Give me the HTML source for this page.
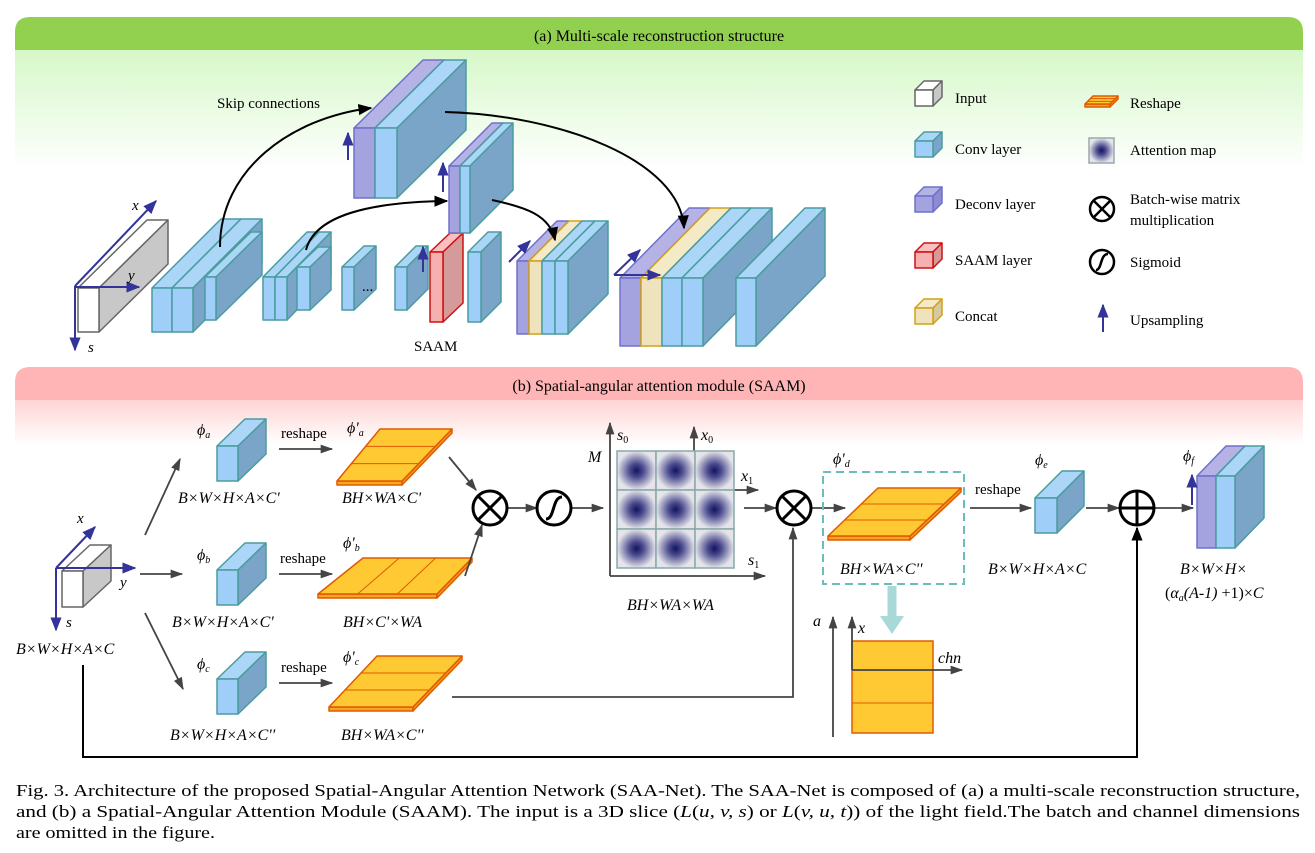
<!DOCTYPE html>
<html><head><meta charset="utf-8"><style>
html,body{margin:0;padding:0;background:#fff}
svg{display:block}
text{font-family:"Liberation Serif",serif;fill:#000}
.it{font-style:italic}
</style></head><body>
<svg id="s" width="1315" height="853" viewBox="0 0 1315 853" xmlns="http://www.w3.org/2000/svg">
<defs>
<linearGradient id="gA" x1="0" y1="0" x2="0" y2="1"><stop offset="0" stop-color="#d6f8c8"/><stop offset="1" stop-color="#ffffff"/></linearGradient>
<linearGradient id="gB" x1="0" y1="0" x2="0" y2="1"><stop offset="0" stop-color="#ffd4d4"/><stop offset="1" stop-color="#ffffff"/></linearGradient>
<radialGradient id="rg"><stop offset="0" stop-color="#14145e"/><stop offset="0.35" stop-color="#4a4a8e"/><stop offset="1" stop-color="#e4e4ea"/></radialGradient>
<marker id="ah" viewBox="0 0 10 10" refX="9" refY="5" markerWidth="7" markerHeight="7" orient="auto"><path d="M0,1 L10,5 L0,9 Z" fill="#000"/></marker>
<marker id="ag" viewBox="0 0 10 10" refX="9" refY="5" markerWidth="8" markerHeight="7" orient="auto"><path d="M0,1.5 L10,5 L0,8.5 Z" fill="#444"/></marker>
<marker id="ab" viewBox="0 0 10 10" refX="9" refY="5" markerWidth="7" markerHeight="7" orient="auto"><path d="M0,1 L10,5 L0,9 Z" fill="#33339a"/></marker>
</defs>
<path d="M15,50 L15,32 Q15,17 30,17 L1288,17 Q1303,17 1303,32 L1303,50 Z" fill="#92d050"/>
<rect x="15" y="50" width="1288" height="120" fill="url(#gA)"/>
<text x="659" y="41" font-size="16" text-anchor="middle">(a) Multi-scale reconstruction structure</text>
<path d="M15,400 L15,382 Q15,367 30,367 L1288,367 Q1303,367 1303,382 L1303,400 Z" fill="#ffb5b5"/>
<rect x="15" y="400" width="1288" height="45" fill="url(#gB)"/>
<text x="659" y="391" font-size="16" text-anchor="middle">(b) Spatial-angular attention module (SAAM)</text>
<g id="boxes"></g>
<g stroke="#33339a" stroke-width="2" fill="none">
<line x1="75" y1="286" x2="156" y2="201" marker-end="url(#ab)"/>
<line x1="75" y1="287" x2="139" y2="287" marker-end="url(#ab)"/>
<line x1="75" y1="286" x2="75" y2="350" marker-end="url(#ab)"/>
<line x1="348" y1="160" x2="348" y2="133" marker-end="url(#ab)"/>
<line x1="443" y1="192" x2="443" y2="163" marker-end="url(#ab)"/>
<line x1="423" y1="272" x2="423" y2="247" marker-end="url(#ab)"/>
<line x1="509" y1="262" x2="530" y2="241" marker-end="url(#ab)"/>
<line x1="614" y1="275" x2="640" y2="250" marker-end="url(#ab)"/>
<line x1="614" y1="275" x2="660" y2="275" marker-end="url(#ab)"/>
<line x1="1192" y1="505" x2="1192" y2="475" marker-end="url(#ab)"/>
<line x1="1103" y1="332" x2="1103" y2="305" marker-end="url(#ab)"/>
<line x1="56" y1="568" x2="95" y2="527" marker-end="url(#ab)"/>
<line x1="56" y1="568" x2="135" y2="568" marker-end="url(#ab)"/>
<line x1="56" y1="568" x2="56" y2="630" marker-end="url(#ab)"/>
</g>
<text x="132" y="210" font-size="15" class="it">x</text>
<text x="128" y="280" font-size="15" class="it">y</text>
<text x="88" y="352" font-size="15" class="it">s</text>
<text x="217" y="108" font-size="15">Skip connections</text>
<text x="362" y="291" font-size="15">...</text>
<text x="414" y="351" font-size="15">SAAM</text>
<g stroke="#000" stroke-width="2" fill="none">
<path d="M220,247 C220,170 290,118 371,108" marker-end="url(#ah)"/>
<path d="M306,250 C315,215 370,202 447,201" marker-end="url(#ah)"/>
<path d="M445,112 C560,115 680,160 684,228" marker-end="url(#ah)"/>
<path d="M492,200 C525,207 550,215 555,240" marker-end="url(#ah)"/>
</g>
<g font-size="15">
<text x="955" y="103">Input</text>
<text x="955" y="154">Conv layer</text>
<text x="955" y="209">Deconv layer</text>
<text x="955" y="265">SAAM layer</text>
<text x="955" y="321">Concat</text>
<text x="1130" y="108">Reshape</text>
<text x="1130" y="155">Attention map</text>
<text x="1130" y="204">Batch-wise matrix</text>
<text x="1130" y="225">multiplication</text>
<text x="1130" y="267">Sigmoid</text>
<text x="1130" y="325">Upsampling</text>
</g>
<rect x="1089" y="138" width="25" height="25" fill="url(#rg)" stroke="#99aaaa" stroke-width="1.5"/>
<g stroke="#000" stroke-width="2.5" fill="none">
<circle cx="1102" cy="209" r="12"/><line x1="1094" y1="201" x2="1110" y2="217"/><line x1="1110" y1="201" x2="1094" y2="217"/>
<circle cx="1102" cy="262" r="12"/><path d="M1096,270 C1102,270 1100,254 1108,254"/>
</g>
<text x="77" y="523" font-size="15" class="it">x</text>
<text x="120" y="587" font-size="15" class="it">y</text>
<text x="66" y="627" font-size="15" class="it">s</text>
<g font-size="16" class="it">
<text x="16" y="654">B×W×H×A×C</text>
<text x="178" y="503">B×W×H×A×C'</text>
<text x="342" y="503">BH×WA×C'</text>
<text x="172" y="627">B×W×H×A×C'</text>
<text x="343" y="627">BH×C'×WA</text>
<text x="170" y="740">B×W×H×A×C''</text>
<text x="341" y="740">BH×WA×C''</text>
<text x="627" y="610">BH×WA×WA</text>
<text x="840" y="574">BH×WA×C''</text>
<text x="988" y="574">B×W×H×A×C</text>
<text x="1180" y="574">B×W×H×</text>
<text x="1165" y="598" font-style="normal">(<tspan font-style="italic">α<tspan font-size="10" dy="3">a</tspan><tspan dy="-3">(A-1)</tspan></tspan> +1)×<tspan font-style="italic">C</tspan></text>
<text x="197" y="435">ϕ<tspan font-size="10" dy="3">a</tspan></text>
<text x="197" y="560">ϕ<tspan font-size="10" dy="3">b</tspan></text>
<text x="197" y="669">ϕ<tspan font-size="10" dy="3">c</tspan></text>
<text x="347" y="433">ϕ'<tspan font-size="10" dy="3">a</tspan></text>
<text x="343" y="548">ϕ'<tspan font-size="10" dy="3">b</tspan></text>
<text x="343" y="662">ϕ'<tspan font-size="10" dy="3">c</tspan></text>
<text x="833" y="464">ϕ'<tspan font-size="10" dy="3">d</tspan></text>
<text x="1035" y="465">ϕ<tspan font-size="10" dy="3">e</tspan></text>
<text x="1183" y="461">ϕ<tspan font-size="10" dy="3">f</tspan></text>
<text x="588" y="462">M</text>
<text x="617" y="440">s<tspan font-size="10" dy="3" font-style="normal">0</tspan></text>
<text x="701" y="440">x<tspan font-size="10" dy="3" font-style="normal">0</tspan></text>
<text x="741" y="481">x<tspan font-size="10" dy="3" font-style="normal">1</tspan></text>
<text x="748" y="565">s<tspan font-size="10" dy="3" font-style="normal">1</tspan></text>
<text x="813" y="626">a</text>
<text x="858" y="633">x</text>
<text x="938" y="663">chn</text>
</g>
<g font-size="15">
<text x="281" y="438">reshape</text>
<text x="280" y="563">reshape</text>
<text x="281" y="672">reshape</text>
<text x="975" y="494">reshape</text>
</g>
<g stroke="#444" stroke-width="1.8" fill="none">
<line x1="145" y1="535" x2="180" y2="459" marker-end="url(#ag)"/>
<line x1="140" y1="574" x2="182" y2="574" marker-end="url(#ag)"/>
<line x1="145" y1="613" x2="183" y2="689" marker-end="url(#ag)"/>
<line x1="279" y1="449" x2="332" y2="449" marker-end="url(#ag)"/>
<line x1="279" y1="574" x2="332" y2="574" marker-end="url(#ag)"/>
<line x1="279" y1="683" x2="332" y2="683" marker-end="url(#ag)"/>
<line x1="449" y1="457" x2="476" y2="490" marker-end="url(#ag)"/>
<line x1="465" y1="576" x2="482" y2="525" marker-end="url(#ag)"/>
<line x1="507" y1="508" x2="537" y2="508" marker-end="url(#ag)"/>
<line x1="571" y1="508" x2="603" y2="508" marker-end="url(#ag)"/>
<line x1="744" y1="508" x2="776" y2="508" marker-end="url(#ag)"/>
<line x1="811" y1="508" x2="845" y2="508" marker-end="url(#ag)"/>
<line x1="970" y1="508" x2="1031" y2="508" marker-end="url(#ag)"/>
<line x1="1086" y1="508" x2="1119" y2="508" marker-end="url(#ag)"/>
<line x1="1155" y1="508" x2="1193" y2="508" marker-end="url(#ag)"/>
<polyline points="452,697 793,697 793,528" marker-end="url(#ag)"/>
<line x1="610" y1="576" x2="610" y2="423" marker-end="url(#ag)"/>
<line x1="610" y1="576" x2="765" y2="576" marker-end="url(#ag)"/>
<line x1="694" y1="490" x2="694" y2="427" marker-end="url(#ag)"/>
<line x1="694" y1="490" x2="758" y2="490" marker-end="url(#ag)"/>
<line x1="833" y1="737" x2="833" y2="617" marker-end="url(#ag)"/>
</g>
<polyline points="83,665 83,757 1137,757 1137,528" stroke="#000" stroke-width="2" fill="none" marker-end="url(#ah)"/>
<g id="att"></g>
<g stroke="#000" stroke-width="3" fill="#fff">
<circle cx="490" cy="508" r="17"/><circle cx="794" cy="508" r="17"/><circle cx="554" cy="508" r="17"/><circle cx="1137" cy="508" r="17"/>
</g>
<g stroke="#000" stroke-width="3" fill="none">
<line x1="478" y1="496" x2="502" y2="520"/><line x1="502" y1="496" x2="478" y2="520"/>
<line x1="782" y1="496" x2="806" y2="520"/><line x1="806" y1="496" x2="782" y2="520"/>
<line x1="1120" y1="508" x2="1154" y2="508"/><line x1="1137" y1="491" x2="1137" y2="525"/>
<path d="M546,519 C555,519 552,497 562,497"/>
</g>
<rect x="823" y="472" width="141" height="112" fill="none" stroke="#6cbcbc" stroke-width="2" stroke-dasharray="8,5"/>
<line x1="892" y1="586" x2="892" y2="618" stroke="#a8d8d8" stroke-width="9"/>
<path d="M880,616 L904,616 L892,634 Z" fill="#a8d8d8"/>
<rect x="852" y="641" width="81" height="92" fill="#ffc933" stroke="#e05a00" stroke-width="1.5"/>
<line x1="852" y1="703" x2="933" y2="703" stroke="#e05a00"/>
<g stroke="#444" stroke-width="1.8" fill="none">
<line x1="852" y1="670" x2="852" y2="617" marker-end="url(#ag)"/>
<line x1="852" y1="670" x2="962" y2="670" marker-end="url(#ag)"/>
</g>
<g font-size="17">
<text x="16" y="796" textLength="1284" lengthAdjust="spacingAndGlyphs">Fig. 3.  Architecture of the proposed Spatial-Angular Attention Network (SAA-Net). The SAA-Net is composed of (a) a multi-scale reconstruction structure,</text>
<text x="16" y="817" textLength="1284" lengthAdjust="spacingAndGlyphs">and (b) a Spatial-Angular Attention Module (SAAM). The input is a 3D slice (<tspan font-style="italic">L</tspan>(<tspan font-style="italic">u, v, s</tspan>) or <tspan font-style="italic">L</tspan>(<tspan font-style="italic">v, u, t</tspan>)) of the light field.The batch and channel dimensions</text>
<text x="16" y="838" textLength="199" lengthAdjust="spacingAndGlyphs">are omitted in the figure.</text>
</g>
</svg>
<script>
(function(){
var NS="http://www.w3.org/2000/svg";
var C={
conv:{f:"#9fcff8",t:"#abd6f8",s:"#7aa4c8",k:"#4a9c9f"},
dec:{f:"#a4a3e0",t:"#b5b3e6",s:"#8d8bd2",k:"#7070cc"},
cat:{f:"#efe3bd",t:"#f4ebc6",s:"#d6cba0",k:"#d4a017"},
red:{f:"#f6b0b0",t:"#f8c0c0",s:"#d59a9a",k:"#d01010"},
inp:{f:"#ffffff",t:"#ffffff",s:"#c8c8c8",k:"#666666"}};
var g=document.getElementById("boxes");
function poly(pts,fill,st,sw){var p=document.createElementNS(NS,"polygon");p.setAttribute("points",pts.map(function(a){return a.join(",")}).join(" "));p.setAttribute("fill",fill);p.setAttribute("stroke",st);p.setAttribute("stroke-width",sw||1.5);p.setAttribute("stroke-linejoin","round");g.appendChild(p);}
function box(x,y,w,h,dx,dy,t){var c=C[t];
poly([[x,y],[x+dx,y+dy],[x+w+dx,y+dy],[x+w,y]],c.t,c.k);
poly([[x+w,y],[x+w+dx,y+dy],[x+w+dx,y+h+dy],[x+w,y+h]],c.s,c.k);
poly([[x,y],[x+w,y],[x+w,y+h],[x,y+h]],c.f,c.k);}
function flat(a,b,cc,d,th,lines,vert){
poly([d,cc,[cc[0],cc[1]+th],[d[0],d[1]+th]],"#f6a623","#e05a00",1.5);
poly([cc,b,[b[0],b[1]+th],[cc[0],cc[1]+th]],"#f09a20","#e05a00",1.5);
poly([a,b,cc,d],"#ffc933","#e05a00",1.5);
for(var i=1;i<3;i++){var l=document.createElementNS(NS,"line");var f=i/3,p1,p2;
if(!vert){p1=[a[0]+(d[0]-a[0])*f,a[1]+(d[1]-a[1])*f];p2=[b[0]+(cc[0]-b[0])*f,b[1]+(cc[1]-b[1])*f];}
else{p1=[a[0]+(b[0]-a[0])*f,a[1]];p2=[d[0]+(cc[0]-d[0])*f,d[1]];}
l.setAttribute("x1",p1[0]);l.setAttribute("y1",p1[1]);l.setAttribute("x2",p2[0]);l.setAttribute("y2",p2[1]);l.setAttribute("stroke","#e05a00");l.setAttribute("stroke-width","1");g.appendChild(l);}}
box(78,288,21,44,69,-68,"inp");
box(152,288,20,44,69,-69,"conv");box(172,288,21,44,69,-69,"conv");box(205,277,11,43,46,-45,"conv");
box(263,277,12,43,44,-45,"conv");box(275,277,12,43,44,-45,"conv");box(297,267,13,43,21,-20,"conv");
box(342,267,12,43,22,-21,"conv");
box(395,267,12,43,21,-21,"conv");
box(430,252,13,70,20,-19,"red");
box(468,252,13,70,20,-20,"conv");
box(354,128,21,70,69,-68,"dec");box(375,128,22,70,69,-68,"conv");
box(449,166,11,67,43,-43,"dec");box(460,166,10,67,43,-43,"conv");
box(517,261,12,73,40,-40,"dec");box(529,261,13,73,40,-40,"cat");box(542,261,13,73,40,-40,"conv");box(555,261,13,73,40,-40,"conv");
box(620,278,21,68,69,-70,"dec");box(641,278,21,68,69,-70,"cat");box(662,278,20,68,69,-70,"conv");box(682,278,21,68,69,-70,"conv");
box(736,278,20,68,69,-70,"conv");
box(915,90,18,16,9,-9,"inp");box(915,141,18,16,9,-9,"conv");box(915,196,18,16,9,-9,"dec");box(915,252,18,16,9,-9,"red");box(915,308,18,16,9,-9,"cat");
flat([1093,96],[1118,96],[1110,104],[1085,104],3,[],false);
box(62,571,21,36,28,-26,"inp");
box(217,446,21,35,28,-27,"conv");box(217,570,21,35,28,-27,"conv");box(217,679,21,35,28,-27,"conv");
box(1035,498,22,35,27,-27,"conv");
box(1197,476,19,72,29,-30,"dec");box(1216,476,19,72,29,-30,"conv");
flat([380,429],[452,429],[402,481],[337,481],4,[],false);
flat([363,558],[472,558],[437,594],[318,594],4,[],true);
flat([377,656],[462,656],[413,707],[329,707],4,[],false);
flat([878,488],[961,488],[910,536],[828,536],4,[],false);
var a=document.getElementById("att");
for(var r=0;r<3;r++)for(var c=0;c<3;c++){var q=document.createElementNS(NS,"rect");q.setAttribute("x",617+c*39);q.setAttribute("y",451+r*39);q.setAttribute("width",39);q.setAttribute("height",39);q.setAttribute("fill","url(#rg)");q.setAttribute("stroke","#8aa8a8");q.setAttribute("stroke-width","1.5");a.appendChild(q);}
})();
</script>
</body></html>
